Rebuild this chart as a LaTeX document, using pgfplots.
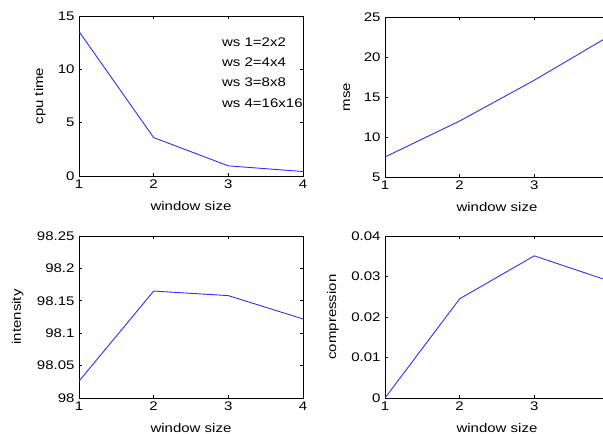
\documentclass[border=0pt]{standalone}
\usepackage{pgfplots}
\pgfplotsset{compat=1.18}
\usepackage{fontspec}
\setmainfont[FakeStretch=1.2]{Liberation Sans}

\definecolor{matblue}{RGB}{45,45,255}

\pgfplotsset{
  mat/.style={
    scale only axis, width=224pt, anchor=south west,
    xmin=1, xmax=4, xtick={1,2,3,4},
    tick align=inside, tick pos=both, major tick length=3pt,
    axis line style={line width=0.8pt},
    every tick/.style={black, line width=0.6pt},
    font=\fontsize{12.5}{14}\selectfont,
    /pgf/number format/assume math mode=true,
    /pgf/number format/fixed, /pgf/number format/precision=2,
    scaled y ticks=false,
    xlabel={window size},
    xticklabel style={yshift=-0.5pt},
    yticklabel style={xshift=-1pt},
  },
  serie/.style={matblue, line width=0.9pt, no marks},
}

\begin{document}
\begin{tikzpicture}
\useasboundingbox (0pt,0pt) rectangle (603pt,434pt);
\clip (0pt,0pt) rectangle (603pt,434pt);

% cpu time
\begin{axis}[mat, at={(79pt,258pt)}, height=160pt,
  ymin=0, ymax=15, ytick={0,5,10,15},
  ylabel={cpu time},
  xlabel style={at={(axis description cs:0.5,-0.19)}, anchor=center},
  ylabel style={at={(axis description cs:-0.175,0.5)}, anchor=center}]
\addplot[serie] coordinates {(1,13.55) (2,3.6) (3,0.95) (4,0.42)};
\node[anchor=west] at (axis cs:2.87,12.56) {ws 1=2x2};
\node[anchor=west] at (axis cs:2.87,10.66) {ws 2=4x4};
\node[anchor=west] at (axis cs:2.87,8.76) {ws 3=8x8};
\node[anchor=west] at (axis cs:2.87,6.86) {ws 4=16x16};
\end{axis}

% mse (right edge cut off as in the original)
\begin{axis}[mat, at={(385pt,257pt)}, height=160pt,
  xticklabels={1,2,3,},
  ymin=5, ymax=25, ytick={5,10,15,20,25},
  ylabel={mse},
  xlabel style={at={(axis description cs:0.5,-0.19)}, anchor=center},
  ylabel style={at={(axis description cs:-0.17,0.5)}, anchor=center}]
\addplot[serie] coordinates {(1,7.5) (2,12.0) (3,17.1) (4,22.6)};
\end{axis}

% intensity
\begin{axis}[mat, at={(79pt,36pt)}, height=162pt,
  ymin=98, ymax=98.25, ytick={98,98.05,98.1,98.15,98.2,98.25},
  ylabel={intensity},
  xlabel style={at={(axis description cs:0.5,-0.185)}, anchor=center},
  ylabel style={at={(axis description cs:-0.274,0.5)}, anchor=center}]
\addplot[serie] coordinates {(1,98.026) (2,98.165) (3,98.158) (4,98.122)};
\end{axis}

% compression
\begin{axis}[mat, at={(385pt,36pt)}, height=162pt,
  xticklabels={1,2,3,},
  ymin=0, ymax=0.04, ytick={0,0.01,0.02,0.03,0.04},
  ylabel={compression},
  xlabel style={at={(axis description cs:0.5,-0.185)}, anchor=center},
  ylabel style={at={(axis description cs:-0.233,0.5)}, anchor=center}]
\addplot[serie] coordinates {(1,0) (2,0.0245) (3,0.0351) (4,0.0289)};
\end{axis}
\end{tikzpicture}
\end{document}
